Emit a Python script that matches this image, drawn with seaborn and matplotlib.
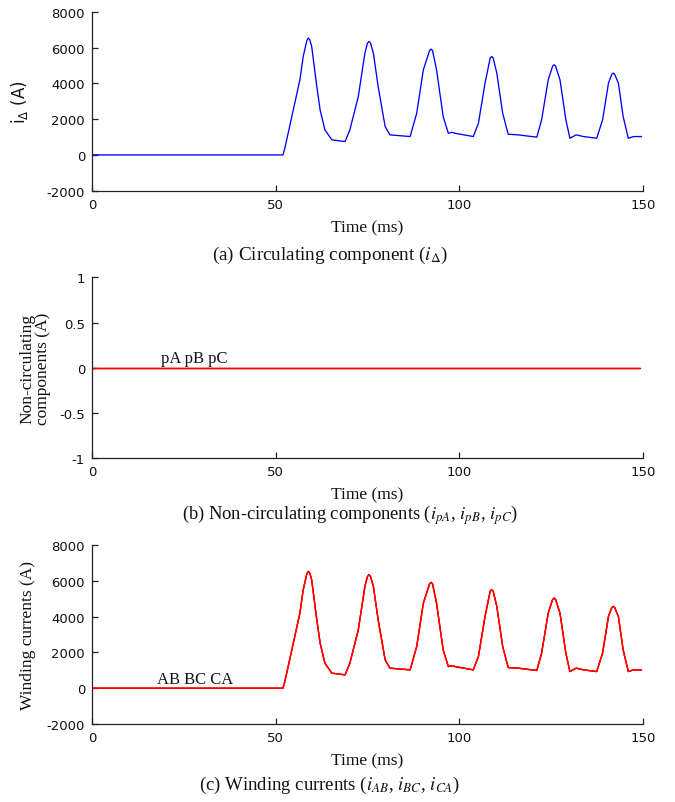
import numpy as np
import pandas as pd
import matplotlib
matplotlib.use("Agg")
import matplotlib.pyplot as plt
import seaborn as sns

# ---- data ----
time_ms = [0, 52.0, 52.5, 54.8, 56.6, 57.5, 58.5, 58.9, 59.3, 59.8, 61.2, 62.1, 63.4, 65.3, 68.9,
           70.2, 72.5, 74.3, 75.0, 75.4, 75.8, 76.6, 77.9, 79.8, 81.1, 86.6,
           88.4, 90.2, 91.9, 92.3, 92.7, 93.8, 95.6, 97.0, 98.0, 98.8, 103.8,
           105.2, 107.0, 108.4, 108.8, 109.2, 110.2, 111.8, 113.3, 116.0, 121.1,
           122.4, 124.2, 125.4, 125.8, 126.2, 127.4, 129.0, 130.1, 131.8, 133.8, 137.4,
           139.0, 140.6, 141.5, 141.9, 142.3, 143.3, 144.6, 146.0, 147.4, 149.6]
i_delta = [0, 0, 375, 2517, 4196, 5500, 6400, 6528, 6420, 6060, 3820, 2517, 1400, 840, 745,
           1400, 3263, 5690, 6250, 6340, 6250, 5690, 3820, 1585, 1120, 1025,
           2330, 4750, 5830, 5910, 5830, 4750, 2140, 1210, 1260, 1210, 1025,
           1770, 4010, 5420, 5500, 5420, 4570, 2330, 1155, 1120, 990,
           1960, 4196, 4960, 5035, 4960, 4196, 1960, 930, 1120, 1025, 930,
           1960, 4010, 4500, 4570, 4500, 4010, 2140, 930, 1025, 1025]
noncirc_time = [0, 149.2]
i_pA = [0, 0]
i_pB = [0, 0]
i_pC = [0, 0]
i_AB = i_delta
i_BC = i_delta
i_CA = i_delta

xticks = [0, 50, 100, 150]
yticks_a = [-2000, 0, 2000, 4000, 6000, 8000]
yticks_b = [-1, -0.5, 0, 0.5, 1]

sns.set_theme(style="white")
plt.rcParams["mathtext.fontset"] = "stix"
plt.rcParams["font.family"] = ["DejaVu Sans"]

SERIF = "Liberation Serif"
W, H = 675, 803
fig = plt.figure(figsize=(W / 100, H / 100), dpi=100)

def axes_px(left, top, right, bottom):
    return fig.add_axes([left / W, 1 - bottom / H, (right - left) / W, (bottom - top) / H])

ax_a = axes_px(92, 12.7, 643, 191.7)
ax_b = axes_px(92, 278.3, 643, 459.3)
ax_c = axes_px(92, 546, 643, 725)

df_a = pd.DataFrame({"t": time_ms, "v": i_delta})
sns.lineplot(data=df_a, x="t", y="v", ax=ax_a, color=(0, 0, 1), lw=0.95, estimator=None)

for s in (i_pA, i_pB, i_pC):
    sns.lineplot(x=noncirc_time, y=s, ax=ax_b, color=(1, 0, 0), lw=0.95, estimator=None)

for s in (i_AB, i_BC, i_CA):
    sns.lineplot(x=time_ms, y=s, ax=ax_c, color=(1, 0, 0), lw=0.95, estimator=None)

for ax, yt, yl in ((ax_a, yticks_a, (-2000, 8000)), (ax_b, yticks_b, (-1, 1)), (ax_c, yticks_a, (-2000, 8000))):
    ax.set_xlim(0, 150)
    ax.set_ylim(*yl)
    ax.set_xticks(xticks)
    ax.set_yticks(yt)
    ax.set_yticklabels([f"{v:g}" for v in yt])
    for sp in ("top", "right"):
        ax.spines[sp].set_visible(False)
    for sp in ("left", "bottom"):
        ax.spines[sp].set_color("#222222")
        ax.spines[sp].set_linewidth(0.9)
    ax.tick_params(direction="in", length=4, width=0.9, color="#222222", pad=5,
                   labelsize=9.5, labelcolor="#111111", left=True, bottom=True)
    ax.set_xlabel("Time (ms)", fontfamily=SERIF, fontsize=12.5, color="#111111", labelpad=6)
    ax.set_facecolor("white")

ax_a.set_ylabel(r"$\mathregular{i_{\Delta}}$ (A)", fontsize=12, color="#111111", va="center")
ax_a.yaxis.set_label_coords(-0.131, 0.5)
ax_b.set_ylabel("Non-circulating\ncomponents (A)", fontfamily=SERIF, fontsize=12.5,
                color="#111111", linespacing=1.0, va="center")
ax_b.yaxis.set_label_coords(-0.103, 0.5)
ax_c.set_ylabel("Winding currents (A)", fontfamily=SERIF, fontsize=12.5, color="#111111",
                va="center")
ax_c.yaxis.set_label_coords(-0.116, 0.5)

ax_b.text(18.8, 0.02, "pA pB pC", fontfamily=SERIF, fontsize=12, color="#111111",
          va="bottom", ha="left")
ax_c.text(17.7, 60, "AB BC CA", fontfamily=SERIF, fontsize=12, color="#111111",
          va="bottom", ha="left")

fig.text(330 / W, 1 - 260 / H, r"(a) Circulating component ($i_{\Delta}$)",
         fontfamily=SERIF, fontsize=13.8, ha="center", va="baseline", color="#111111")
fig.text(350 / W, 1 - 520 / H, r"(b) Non-circulating components ($i_{pA}$, $i_{pB}$, $i_{pC}$)",
         fontfamily=SERIF, fontsize=13.3, ha="center", va="baseline", color="#111111")
fig.text(330 / W, 1 - 790 / H, r"(c) Winding currents ($i_{AB}$, $i_{BC}$, $i_{CA}$)",
         fontfamily=SERIF, fontsize=13.5, ha="center", va="baseline", color="#111111")

fig.savefig("out.png", dpi=100, facecolor="white")
